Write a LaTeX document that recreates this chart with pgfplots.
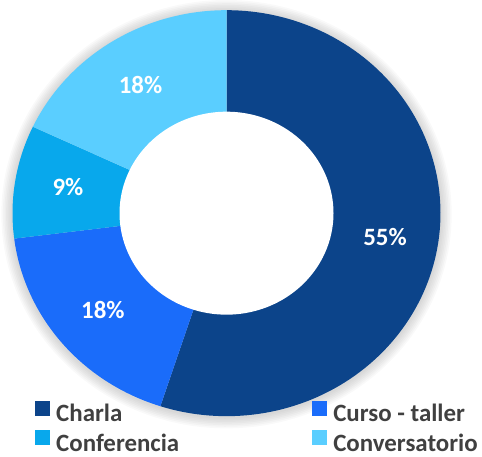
\documentclass[border=0pt]{standalone}
\usepackage{pgfplots}
\pgfplotsset{compat=1.18}
\usepackage{pgfplotstable}
\usepackage{fontspec}
\setmainfont{Carlito}
\definecolor{cA}{RGB}{12,68,138}
\definecolor{cB}{RGB}{26,108,250}
\definecolor{cC}{RGB}{8,168,236}
\definecolor{cD}{RGB}{90,206,255}
\definecolor{legtext}{RGB}{64,64,64}
\pgfplotstableread{
label value
Charla 55
Curso 18
Conferencia 9
Conversatorio 18
}\datatable
\pgfplotstablegetelem{0}{value}\of\datatable \let\vA\pgfplotsretval
\pgfplotstablegetelem{1}{value}\of\datatable \let\vB\pgfplotsretval
\pgfplotstablegetelem{2}{value}\of\datatable \let\vC\pgfplotsretval
\pgfplotstablegetelem{3}{value}\of\datatable \let\vD\pgfplotsretval
\pgfmathsetmacro\aZ{90}
\pgfmathsetmacro\aA{\aZ-3.6*\vA}
\pgfmathsetmacro\aB{\aA-3.6*\vB}
\pgfmathsetmacro\aC{\aB-3.6*\vC}
\pgfmathsetmacro\aD{\aC-3.6*\vD}
\def\cx{226.5}
\def\cy{243.5}
\def\rx{214}
\def\ry{203}
\def\rin{0.5}
\def\rmid{0.75}
\begin{document}
\begin{tikzpicture}
\begin{axis}[
  width=482bp, height=456bp, scale only axis,
  xmin=0, xmax=482, ymin=0, ymax=456,
  hide axis, clip=false,
  legend columns=2,
  legend cell align=left,
  legend image code/.code={\fill[#1] (0bp,-2bp) rectangle (15bp,13bp);},
  legend style={at={(axis cs:35,56)}, anchor=north west, draw=none, fill=none,
    inner sep=0pt, row sep=6bp,
    font=\bfseries\fontsize{25}{26}\selectfont, text=legtext,
    nodes={inner sep=1bp},
    /tikz/every odd column/.append style={column sep=5bp},
    /tikz/every even column/.append style={column sep=132bp}},
]
\addplot[draw=none, forget plot] coordinates {(0,0) (482,456)};
\pgfplotsinvokeforeach{1,2,3,4,5,6,7}{
\addplot[fill=black, fill opacity=0.022, draw=none, domain=0:360, samples=180, variable=\t, forget plot]
  ({\cx+(\rx+1.6*#1)*cos(\t)},{\cy-1+(\ry+1.6*#1)*sin(\t)}) -- cycle;
}
\addplot[fill=cA, draw=none, domain=\aA:\aZ, samples=120, variable=\t]
  ({\cx+\rx*cos(\t)},{\cy+\ry*sin(\t)}) -- (axis cs:\cx,\cy) -- cycle;
\addlegendentry{Charla}
\addplot[fill=cB, draw=none, domain=\aB:\aA, samples=60, variable=\t]
  ({\cx+\rx*cos(\t)},{\cy+\ry*sin(\t)}) -- (axis cs:\cx,\cy) -- cycle;
\addlegendentry{Curso - taller}
\addplot[fill=cC, draw=none, domain=\aC:\aB, samples=40, variable=\t]
  ({\cx+\rx*cos(\t)},{\cy+\ry*sin(\t)}) -- (axis cs:\cx,\cy) -- cycle;
\addlegendentry{Conferencia}
\addplot[fill=cD, draw=none, domain=\aD:\aC, samples=60, variable=\t]
  ({\cx+\rx*cos(\t)},{\cy+\ry*sin(\t)}) -- (axis cs:\cx,\cy) -- cycle;
\addlegendentry{Conversatorio}
\addplot[fill=white, draw=none, domain=0:360, samples=180, variable=\t, forget plot]
  ({\cx+\rin*\rx*cos(\t)},{\cy+\rin*\ry*sin(\t)}) -- cycle;
\pgfmathsetmacro\mA{(\aZ+\aA)/2}
\pgfmathsetmacro\mB{(\aA+\aB)/2}
\pgfmathsetmacro\mC{(\aB+\aC)/2}
\pgfmathsetmacro\mD{(\aC+\aD)/2}
\tikzset{pct/.style={text=white, font=\bfseries\fontsize{25}{26}\selectfont}}
\node[pct] at (axis cs:{\cx+\rmid*\rx*cos(\mA)},{\cy+\rmid*\ry*sin(\mA)}) {55\%};
\node[pct] at (axis cs:{\cx+\rmid*\rx*cos(\mB)},{\cy+\rmid*\ry*sin(\mB)}) {18\%};
\node[pct] at (axis cs:{\cx+\rmid*\rx*cos(\mC)},{\cy+2+\rmid*\ry*sin(\mC)}) {9\%};
\node[pct] at (axis cs:{\cx+\rmid*\rx*cos(\mD)},{\cy+\rmid*\ry*sin(\mD)}) {18\%};
\end{axis}
\end{tikzpicture}
\end{document}
